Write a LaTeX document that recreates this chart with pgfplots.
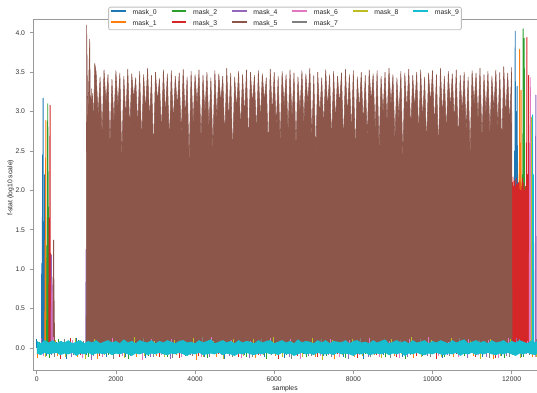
\documentclass[border=0pt]{standalone}
\usepackage{fontspec}
\setmainfont{Liberation Sans}
\usepackage{pgfplots}
\pgfplotsset{compat=1.18}
\usepackage{pgfplotstable}

\definecolor{c0}{HTML}{1F77B4}
\definecolor{c1}{HTML}{FF7F0E}
\definecolor{c2}{HTML}{2CA02C}
\definecolor{c3}{HTML}{D62728}
\definecolor{c4}{HTML}{9467BD}
\definecolor{c5}{HTML}{8C564B}
\definecolor{c6}{HTML}{E377C2}
\definecolor{c7}{HTML}{7F7F7F}
\definecolor{c8}{HTML}{BCBD22}
\definecolor{c9}{HTML}{17BECF}

% cyan (mask_9) noise band: upper and lower envelope
\pgfplotstableread{
x up lo
0 -0.03 0.03
0 0.09 -0.07
100 0.06 -0.09
200 0.10 -0.06
300 0.07 -0.08
400 0.10 -0.07
500 0.06 -0.06
600 0.09 -0.09
700 0.07 -0.07
800 0.10 -0.08
900 0.06 -0.06
1000 0.08 -0.10
1100 0.10 -0.07
1200 0.06 -0.08
1300 0.09 -0.06
1400 0.07 -0.09
1500 0.10 -0.07
1600 0.06 -0.07
1700 0.08 -0.08
1800 0.10 -0.06
1900 0.07 -0.09
2000 0.09 -0.07
2100 0.06 -0.08
2200 0.11 -0.06
2300 0.07 -0.08
2400 0.09 -0.10
2500 0.06 -0.07
2600 0.10 -0.08
2700 0.08 -0.06
2800 0.07 -0.09
2900 0.10 -0.07
3000 0.06 -0.08
3100 0.09 -0.06
3200 0.07 -0.08
3300 0.10 -0.09
3400 0.08 -0.07
3500 0.06 -0.08
3600 0.09 -0.06
3700 0.10 -0.08
3800 0.07 -0.10
3900 0.08 -0.07
4000 0.06 -0.08
4100 0.10 -0.06
4200 0.07 -0.09
4300 0.09 -0.08
4400 0.11 -0.07
4500 0.06 -0.08
4600 0.08 -0.06
4700 0.10 -0.09
4800 0.07 -0.07
4900 0.09 -0.08
5000 0.06 -0.10
5100 0.10 -0.07
5200 0.07 -0.08
5300 0.09 -0.06
5400 0.08 -0.08
5500 0.06 -0.09
5600 0.10 -0.07
5700 0.07 -0.08
5800 0.09 -0.06
5900 0.10 -0.08
6000 0.06 -0.07
6100 0.08 -0.09
6200 0.10 -0.06
6300 0.07 -0.08
6400 0.09 -0.07
6500 0.06 -0.10
6600 0.11 -0.08
6700 0.07 -0.06
6800 0.09 -0.08
6900 0.08 -0.07
7000 0.06 -0.09
7100 0.10 -0.06
7200 0.07 -0.08
7300 0.10 -0.08
7400 0.06 -0.07
7500 0.09 -0.09
7600 0.08 -0.06
7700 0.07 -0.08
7800 0.10 -0.07
7900 0.06 -0.08
8000 0.09 -0.10
8100 0.10 -0.07
8200 0.07 -0.08
8300 0.08 -0.06
8400 0.06 -0.09
8500 0.10 -0.08
8600 0.07 -0.07
8700 0.09 -0.08
8800 0.11 -0.06
8900 0.06 -0.09
9000 0.08 -0.07
9100 0.10 -0.08
9200 0.07 -0.06
9300 0.09 -0.10
9400 0.06 -0.07
9500 0.10 -0.08
9600 0.07 -0.06
9700 0.08 -0.08
9800 0.10 -0.09
9900 0.06 -0.07
10000 0.09 -0.08
10100 0.07 -0.06
10200 0.10 -0.08
10300 0.08 -0.09
10400 0.06 -0.07
10500 0.10 -0.08
10600 0.07 -0.06
10700 0.09 -0.10
10800 0.11 -0.07
10900 0.06 -0.08
11000 0.08 -0.06
11100 0.10 -0.09
11200 0.07 -0.07
11300 0.09 -0.08
11400 0.06 -0.06
11500 0.10 -0.08
11600 0.07 -0.09
11700 0.08 -0.07
11800 0.10 -0.08
11900 0.06 -0.06
12000 0.09 -0.08
12100 0.07 -0.10
12200 0.10 -0.07
12300 0.08 -0.08
12400 0.06 -0.06
12500 0.10 -0.08
12600 0.07 -0.09
12640 0.09 -0.07
12640 -0.03 0.03
}\cyanband

% noise of masks 0-4, 6-8 (visible as fringe around the cyan band)
\pgfplotstableread{
x0 n0 x1 n1 x2 n2 x3 n3 x4 n4 x6 n6 x7 n7 x8 n8
0 0.11 30 -0.13 60 0.08 95 -0.09 125 0.13 160 -0.10 190 0.07 220 -0.12
250 -0.10 280 0.12 310 -0.13 345 0.08 375 -0.09 410 0.14 440 -0.12 470 0.10
500 0.08 530 -0.10 560 0.12 595 -0.14 625 0.09 660 -0.08 690 0.11 720 -0.11
750 -0.14 780 0.09 810 -0.08 845 0.13 875 -0.11 910 0.10 940 -0.09 970 0.13
1000 0.13 1030 -0.11 1060 0.10 1095 -0.09 1125 0.07 1160 -0.13 1190 0.09 1220 -0.14
1250 -0.09 1280 0.13 1310 -0.11 1345 0.09 1375 -0.15 1410 0.08 1440 -0.10 1470 0.11
1500 0.09 1530 -0.14 1560 0.13 1595 -0.10 1625 0.11 1660 -0.12 1690 0.08 1720 -0.09
1750 -0.12 1780 0.10 1810 -0.09 1845 0.12 1875 -0.08 1910 0.13 1940 -0.14 1970 0.08
2000 0.12 2030 -0.08 2060 0.07 2095 -0.12 2125 0.14 2160 -0.10 2190 0.10 2220 -0.13
2250 -0.11 2280 0.11 2310 -0.14 2345 0.10 2375 -0.10 2410 0.09 2440 -0.08 2470 0.14
2500 0.10 2530 -0.12 2560 0.11 2595 -0.08 2625 0.08 2660 -0.15 2690 0.13 2720 -0.10
2750 -0.13 2780 0.08 2810 -0.10 2845 0.14 2875 -0.12 2910 0.11 2940 -0.11 2970 0.09
3000 0.07 3030 -0.10 3060 0.14 3095 -0.11 3125 0.10 3160 -0.09 3190 0.08 3220 -0.12
3250 -0.08 3280 0.14 3310 -0.12 3345 0.09 3375 -0.14 3410 0.12 3440 -0.13 3470 0.10
3500 0.14 3530 -0.09 3560 0.08 3595 -0.13 3625 0.12 3660 -0.11 3690 0.10 3720 -0.08
3750 -0.10 3780 0.10 3810 -0.09 3845 0.11 3875 -0.09 3910 0.08 3940 -0.10 3970 0.13
4000 0.09 4030 -0.15 4060 0.12 4095 -0.10 4125 0.08 4160 -0.12 4190 0.14 4220 -0.11
4250 -0.12 4280 0.09 4310 -0.13 4345 0.12 4375 -0.11 4410 0.14 4440 -0.08 4470 0.09
4500 0.11 4530 -0.11 4560 0.09 4595 -0.08 4625 0.13 4660 -0.09 4690 0.09 4720 -0.14
4750 -0.14 4780 0.13 4810 -0.08 4845 0.10 4875 -0.10 4910 0.10 4940 -0.12 4970 0.11
5000 0.08 5030 -0.09 5060 0.13 5095 -0.12 5125 0.11 5160 -0.13 5190 0.07 5220 -0.10
5250 -0.09 5280 0.11 5310 -0.11 5345 0.13 5375 -0.13 5410 0.09 5440 -0.11 5470 0.12
5500 0.12 5530 -0.13 5560 0.10 5595 -0.09 5625 0.09 5660 -0.10 5690 0.12 5720 -0.09
5750 -0.11 5780 0.08 5810 -0.14 5845 0.08 5875 -0.08 5910 0.13 5940 -0.09 5970 0.14
6000 0.10 6030 -0.10 6060 0.08 6095 -0.14 6125 0.14 6160 -0.08 6190 0.10 6220 -0.12
6250 -0.13 6280 0.12 6310 -0.09 6345 0.11 6375 -0.12 6410 0.11 6440 -0.14 6470 0.08
6500 0.13 6530 -0.08 6560 0.11 6595 -0.10 6625 0.08 6660 -0.14 6690 0.08 6720 -0.11
6750 -0.08 6780 0.10 6810 -0.12 6845 0.09 6875 -0.10 6910 0.08 6940 -0.10 6970 0.13
7000 0.09 7030 -0.12 7060 0.14 7095 -0.11 7125 0.12 7160 -0.10 7190 0.11 7220 -0.15
7250 -0.10 7280 0.13 7310 -0.10 7345 0.14 7375 -0.09 7410 0.12 7440 -0.12 7470 0.10
7500 0.11 7530 -0.14 7560 0.09 7595 -0.08 7625 0.10 7660 -0.12 7690 0.09 7720 -0.09
7750 -0.12 7780 0.09 7810 -0.13 7845 0.10 7875 -0.14 7910 0.10 7940 -0.08 7970 0.12
8000 0.07 8030 -0.11 8060 0.12 8095 -0.13 8125 0.09 8160 -0.09 8190 0.13 8220 -0.10
8250 -0.14 8280 0.11 8310 -0.08 8345 0.12 8375 -0.11 8410 0.13 8440 -0.11 8470 0.09
8500 0.12 8530 -0.09 8560 0.10 8595 -0.09 8625 0.13 8660 -0.11 8690 0.08 8720 -0.13
8750 -0.09 8780 0.14 8810 -0.11 8845 0.08 8875 -0.08 8910 0.09 8940 -0.13 8970 0.11
9000 0.10 9030 -0.10 9060 0.13 9095 -0.12 9125 0.08 9160 -0.13 9190 0.10 9220 -0.08
9250 -0.11 9280 0.08 9310 -0.14 9345 0.13 9375 -0.12 9410 0.11 9440 -0.09 9470 0.14
9500 0.14 9530 -0.13 9560 0.08 9595 -0.10 9625 0.11 9660 -0.08 9690 0.12 9720 -0.12
9750 -0.10 9780 0.12 9810 -0.09 9845 0.09 9875 -0.10 9910 0.14 9940 -0.12 9970 0.10
10000 0.08 10030 -0.08 10060 0.11 10095 -0.14 10125 0.14 10160 -0.10 10190 0.09 10220 -0.11
10250 -0.13 10280 0.10 10310 -0.12 10345 0.11 10375 -0.09 10410 0.08 10440 -0.10 10470 0.13
10500 0.11 10530 -0.12 10560 0.09 10595 -0.08 10625 0.10 10660 -0.12 10690 0.13 10720 -0.09
10750 -0.08 10780 0.13 10810 -0.10 10845 0.14 10875 -0.13 10910 0.12 10940 -0.08 10970 0.09
11000 0.13 11030 -0.10 11060 0.14 11095 -0.11 11125 0.08 11160 -0.09 11190 0.10 11220 -0.14
11250 -0.12 11280 0.09 11310 -0.08 11345 0.10 11375 -0.11 11410 0.10 11440 -0.13 11470 0.11
11500 0.09 11530 -0.14 11560 0.10 11595 -0.13 11625 0.12 11660 -0.13 11690 0.08 11720 -0.10
11750 -0.10 11780 0.11 11810 -0.13 11845 0.08 11875 -0.10 11910 0.13 11940 -0.11 11970 0.12
12000 0.12 12030 -0.09 12060 0.08 12095 -0.10 12125 0.13 12160 -0.08 12190 0.11 12220 -0.13
12250 -0.11 12280 0.12 12310 -0.11 12345 0.12 12375 -0.08 12410 0.09 12440 -0.09 12470 0.10
12500 0.10 12530 -0.11 12560 0.13 12595 -0.09 12620 0.09 12605 -0.12 12615 0.12 12630 -0.11
}\fringe

% mask_5 main block (peaks and valleys of the dense oscillation)
\pgfplotstableread{
x y
1245 0
1252 0.5
1260 4.10
1290 2.85
1338 3.92
1360 2.70
1380 3.29
1395 2.60
1406 3.23
1435 2.80
1465 3.61
1500 3.50
1550 2.95
1600 3.44
1650 2.70
1700 3.53
1750 3.10
1800 3.47
1850 2.55
1900 3.41
1950 2.85
2000 3.52
2050 3.05
2100 3.49
2150 2.40
2200 3.45
2250 2.90
2300 3.54
2350 2.75
2400 3.48
2450 3.15
2500 3.43
2550 2.80
2600 3.51
2650 2.60
2700 3.47
2750 3.00
2800 3.55
2850 2.88
2900 3.46
2950 2.45
3000 3.50
3050 3.12
3100 3.42
3150 2.72
3200 3.53
3250 2.95
3300 3.48
3350 2.58
3400 3.52
3450 2.85
3500 3.45
3550 3.05
3600 3.49
3650 2.68
3700 3.54
3750 2.92
3800 3.44
3850 2.35
3900 3.51
3950 2.82
4000 3.47
4050 3.08
4100 3.53
4150 2.62
4200 3.46
4250 2.97
4300 3.50
4350 2.78
4400 3.43
4450 2.50
4500 3.52
4550 2.90
4600 3.48
4650 3.10
4700 3.45
4750 2.65
4800 3.55
4850 2.85
4900 3.49
4950 2.42
5000 3.44
5050 3.02
5100 3.51
5150 2.75
5200 3.47
5250 2.93
5300 3.53
5350 2.55
5400 3.50
5450 3.08
5500 3.46
5550 2.70
5600 3.52
5650 2.88
5700 3.48
5750 3.12
5800 3.43
5850 2.48
5900 3.54
5950 2.95
6000 3.50
6050 2.80
6100 3.45
6150 2.60
6200 3.51
6250 3.05
6300 3.47
6350 2.73
6400 3.53
6450 2.90
6500 3.49
6550 2.52
6600 3.44
6650 2.98
6700 3.52
6750 2.83
6800 3.48
6850 3.10
6900 3.55
6950 2.66
7000 3.46
7050 2.40
7100 3.50
7150 2.92
7200 3.43
7250 2.78
7300 3.53
7350 3.04
7400 3.47
7450 2.60
7500 3.51
7550 2.86
7600 3.45
7650 3.08
7700 3.49
7750 2.57
7800 3.54
7850 2.94
7900 3.47
7950 2.72
8000 3.52
8050 2.45
8100 3.44
8150 3.00
8200 3.50
8250 2.81
8300 3.46
8350 2.64
8400 3.53
8450 3.11
8500 3.48
8550 2.76
8600 3.52
8650 2.50
8700 3.45
8750 2.96
8800 3.50
8850 2.84
8900 3.55
8950 3.06
9000 3.47
9050 2.62
9100 3.43
9150 2.90
9200 3.51
9250 2.38
9300 3.49
9350 2.99
9400 3.54
9450 2.74
9500 3.46
9550 3.02
9600 3.50
9650 2.68
9700 3.53
9750 2.88
9800 3.44
9850 2.55
9900 3.49
9950 3.09
10000 3.52
10050 2.79
10100 3.47
10150 2.47
10200 3.55
10250 2.93
10300 3.45
10350 2.71
10400 3.51
10450 3.03
10500 3.48
10550 2.83
10600 3.53
10650 2.58
10700 3.46
10750 2.97
10800 3.50
10850 2.74
10900 3.44
10950 2.44
11000 3.52
11050 3.07
11100 3.49
11150 2.86
11200 3.55
11250 2.63
11300 3.47
11350 2.95
11400 3.51
11450 2.70
11500 3.45
11550 3.01
11600 3.53
11650 2.77
11700 3.50
11750 2.52
11800 3.57
11850 2.91
11900 3.49
11950 2.82
12000 3.56
12010 0
}\brownblock

\pgfplotsset{
  ln/.style={forget plot, line width=0.7pt, line join=round},
  stick/.style={forget plot, ycomb, line width=0.7pt, mark=none},
}

\begin{document}
\begin{tikzpicture}
\begin{axis}[
  scale only axis, width=378pt, height=263.8pt,
  xmin=-95, xmax=12640, ymin=-0.288, ymax=4.175,
  axis x line*=box, axis y line*=left,
  axis line style={draw=gray!80, line width=0.7pt},
  tick align=outside, tick pos=left,
  major tick length=2.6pt,
  every tick/.style={draw=gray!80, line width=0.6pt},
  xtick={0,2000,4000,6000,8000,10000,12000},
  ytick={0,0.5,1,1.5,2,2.5,3,3.5,4},
  scaled x ticks=false, scaled y ticks=false,
  tick label style={font=\fontsize{5.1}{6}\selectfont, text=black!80},
  /pgf/number format/assume math mode=true,
  xticklabel style={/pgf/number format/1000 sep={}, anchor=center, inner sep=0pt, yshift=-3.4pt},
  yticklabel style={/pgf/number format/fixed, /pgf/number format/fixed zerofill, /pgf/number format/precision=1, anchor=east, inner sep=0pt, xshift=-3.2pt},
  xlabel={samples}, ylabel={f-stat (log10 scale)},
  every axis x label/.style={at={(axis description cs:0.5,-0.05)}, anchor=center, inner sep=0pt, font=\fontsize{5.1}{6}\selectfont, text=black!85},
  every axis y label/.style={at={(axis description cs:-0.0446,0.52)}, anchor=center, inner sep=0pt, rotate=90, font=\fontsize{5.1}{6}\selectfont, text=black!85},
  legend columns=6,
  legend cell align=left,
  legend image code/.code={\draw[#1, line width=1.1pt] (0pt,1.35pt) -- (11pt,1.35pt);},
  legend style={at={(axis description cs:0.5,1)}, anchor=north, yshift=9.2pt,
    draw=black!25, line width=0.6pt, rounded corners=1.5pt, fill=white,
    font=\fontsize{5.15}{6}\selectfont, text=black!85,
    inner xsep=1.3pt, inner ysep=1.3pt, row sep=2.15pt,
    nodes={inner sep=0.6pt, text height=3.8pt, text depth=1.1pt},
    /tikz/every odd column/.append style={column sep=4pt},
    /tikz/every even column/.append style={column sep=10pt}},
]
% legend (matplotlib column-major order)
\addlegendimage{draw=c0}\addlegendentry{mask\_0}
\addlegendimage{draw=c2}\addlegendentry{mask\_2}
\addlegendimage{draw=c4}\addlegendentry{mask\_4}
\addlegendimage{draw=c6}\addlegendentry{mask\_6}
\addlegendimage{draw=c8}\addlegendentry{mask\_8}
\addlegendimage{draw=c9}\addlegendentry{mask\_9}
\addlegendimage{draw=c1}\addlegendentry{mask\_1}
\addlegendimage{draw=c3}\addlegendentry{mask\_3}
\addlegendimage{draw=c5}\addlegendentry{mask\_5}
\addlegendimage{draw=c7}\addlegendentry{mask\_7}

% mask_0
\addplot[stick, c0] table[x=x0, y=n0]{\fringe};
\addplot[ln, c0] coordinates {(120,0)(126,1.07)(132,0)(150,2.45)(156,0)(160,3.17)(166,0)(180,1.6)(186,0)(200,2.2)(206,0)};
\addplot[ln, c0] coordinates {(12060,0)(12075,2.5)(12082,0)(12090,4.02)(12098,0)(12110,3.0)(12118,0)(12140,3.32)(12148,0)(12160,1.9)(12168,0)};
% mask_1
\addplot[stick, c1] table[x=x1, y=n1]{\fringe};
\addplot[ln, c1] coordinates {(205,0)(212,1.37)(218,0)(228,2.89)(234,0)(240,1.3)(246,0)};
\addplot[ln, c1] coordinates {(12175,0)(12185,2.2)(12192,0)(12200,3.79)(12208,0)(12220,2.6)(12228,0)(12240,3.27)(12248,0)(12260,1.6)(12268,0)};
% mask_2
\addplot[stick, c2] table[x=x2, y=n2]{\fringe};
\addplot[ln, c2] coordinates {(250,0)(256,1.3)(262,0)(278,3.10)(284,0)(290,2.24)(296,0)};
\addplot[ln, c2] coordinates {(12262,0)(12270,2.2)(12276,0)(12290,4.05)(12298,0)(12305,2.5)(12311,0)(12318,3.93)(12325,0)(12335,2.0)(12342,0)};
% mask_3
\addplot[stick, c3] table[x=x3, y=n3]{\fringe};
\addplot[ln, c3] coordinates {(305,0)(312,1.65)(318,0)(336,3.08)(342,0)(352,1.2)(358,0)};
\addplot[ln, c3] coordinates {(12010,0)(12018,2.10)(12026,0.1)(12034,2.17)(12042,0)(12050,1.95)(12058,0)(12066,2.12)(12074,0)(12082,2.05)(12090,0)(12098,1.90)(12106,0)(12114,2.15)(12122,0)(12130,2.0)(12138,0)(12146,2.08)(12154,0)(12162,1.85)(12170,0)(12178,2.1)(12186,0)(12194,1.95)(12202,0)(12210,2.12)(12218,0)(12226,2.0)(12234,0)(12242,1.9)(12250,0)(12258,2.05)(12266,0)(12274,2.15)(12282,0)(12290,1.95)(12298,0)(12306,2.1)(12314,0)(12322,2.0)(12330,0)(12338,1.88)(12346,0)(12354,2.05)(12362,0)(12370,2.6)(12378,0)(12385,3.94)(12392,0)(12400,2.2)(12408,0)(12416,2.0)(12424,0)(12430,3.46)(12438,0)(12446,2.1)(12454,0)(12462,1.9)(12470,0)(12478,2.0)(12486,0)};
% mask_4
\addplot[stick, c4] table[x=x4, y=n4]{\fringe};
\addplot[ln, c4] coordinates {(362,0)(370,1.18)(378,0)(390,0.8)(396,0)};
\addplot[ln, c4] coordinates {(1238,0)(1246,1.25)(1252,0)};
\addplot[ln, c4] coordinates {(12595,0)(12610,3.21)(12620,0)};
% mask_5
\addplot[ln, c5] coordinates {(405,0)(412,0.9)(418,0)(428,1.37)(434,0)(440,0.6)(446,0)};
\addplot[forget plot, draw=c5, fill=c5, line width=0.4pt, line join=round] table[x=x, y=y]{\brownblock} -- cycle;
% mask_6
\addplot[stick, c6] table[x=x6, y=n6]{\fringe};
\addplot[ln, c6] coordinates {(380,0)(385,0.85)(390,0)};
\addplot[ln, c6] coordinates {(12445,0)(12455,2.6)(12462,0)(12470,3.43)(12478,0)};
% mask_7
\addplot[stick, c7] table[x=x7, y=n7]{\fringe};
% mask_8
\addplot[stick, c8] table[x=x8, y=n8]{\fringe};
\addplot[ln, c8] coordinates {(12495,0)(12505,2.93)(12512,0)};
% mask_9
\addplot[forget plot, draw=none, fill=c9] table[x=x, y=up]{\cyanband} -- cycle;
\addplot[forget plot, draw=none, fill=c9] table[x=x, y=lo]{\cyanband} -- cycle;
\addplot[ln, c9] coordinates {(12520,0)(12530,2.96)(12540,0)(12548,2.2)(12556,0)};
\end{axis}
\pgfresetboundingbox
\path (-24.75pt,-16.7pt) rectangle (378pt,278.05pt);
\end{tikzpicture}
\end{document}
